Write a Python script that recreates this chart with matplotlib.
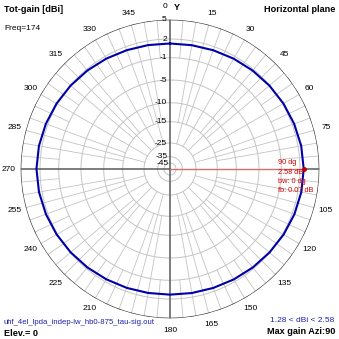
import numpy as np
import matplotlib.pyplot as plt

# gain readings (dBi) every 10 deg of azimuth, clockwise from Y axis
azi = list(range(0, 360, 10))
gain = [1.28, 1.31, 1.42, 1.58, 1.76, 1.96, 2.15, 2.33, 2.50,
        2.58, 2.52, 2.37, 2.18, 1.98, 1.78, 1.60, 1.45, 1.35,
        1.30, 1.34, 1.44, 1.58, 1.76, 1.95, 2.14, 2.32, 2.47,
        2.55, 2.48, 2.33, 2.15, 1.96, 1.77, 1.59, 1.43, 1.33]

# dB rings and their place on the (log-like) radial scale
ring_db = [-45, -35, -25, -15, -10, -5, -1, 2, 5]
ring_r = [6, 12.3, 26, 47.3, 66.3, 89, 111.3, 130, 149.3]
ring_lbl = ['-45', '-35', '-25', '-15', '-10', '-5', '-1', '2', '5']
ang_lbl = list(range(15, 360, 15))

R = ring_r[-1]


def rad(db):
    return np.interp(db, ring_db, ring_r)


W = H = 339
fig = plt.figure(figsize=(3.39, 3.39), dpi=100)
cx, cy = 170, 169
ax = fig.add_axes([(cx - R) / W, (H - cy - R) / H, 2 * R / W, 2 * R / H],
                  projection='polar')
ax.set_theta_zero_location('N')
ax.set_theta_direction(-1)
ax.set_ylim(0, R)
ax.axis('off')

plt.rcParams['font.family'] = ['Liberation Sans', 'DejaVu Sans']

th = np.linspace(0, 2 * np.pi, 361)
grid_c = '#c4c4c4'
for r in ring_r[:-1]:
    ax.plot(th, np.full_like(th, r), color=grid_c, lw=0.7, zorder=1)
ax.plot(th, np.full_like(th, R), color='#303030', lw=0.9, zorder=2)

# spokes
for a in range(0, 360, 5):
    t = np.deg2rad(a)
    if a % 90 == 0:
        continue
    if a % 15 == 0:
        r0 = ring_r[2]
    elif a % 10 == 0:
        r0 = ring_r[3]
    else:
        r0 = ring_r[6]
    r1 = R + 7 if a % 15 == 0 else R
    ax.plot([t, t], [r0, r1], color=grid_c, lw=0.6, zorder=1)
for a in (0, 180, 270):
    ax.plot([np.deg2rad(a)] * 2, [0, R], color='#5a5a5a', lw=1.1, zorder=3)
ax.plot([np.pi / 2] * 2, [rad(2.58), R], color='#5a5a5a', lw=1.1, zorder=3)
ax.plot([np.pi / 2] * 2, [0, rad(2.58)], color='#d07070', lw=1.0, zorder=4)

# pattern
t = np.deg2rad(azi + [360])
g = gain + [gain[0]]
ax.plot(t, rad(g), color='#0000a8', lw=1.5, zorder=5)
ax.plot([np.pi / 2], [rad(2.58)], 'o', color='#c00000', ms=2.5, zorder=6)

# dB labels
for r, s in zip(ring_r, ring_lbl):
    ax.text(np.deg2rad(-1.2 * 149 / r if r > 20 else -12), r, s, fontsize=6,
            ha='right', va='center', zorder=7, clip_on=False)

# angle labels
for a in ang_lbl:
    if a == 90:
        continue
    ax.text(np.deg2rad(a), R + 12, str(a), fontsize=6, ha='center',
            va='center', clip_on=False)
fig.text(165 / W, 1 - 7 / H, '0', fontsize=6, ha='center', va='center')
fig.text(177 / W, 1 - 8 / H, 'Y', fontsize=6.5, fontweight='bold',
         ha='center', va='center')

# header / footer texts
fig.text(4 / W, 1 - 9 / H, 'Tot-gain [dBi]', fontsize=6.6, fontweight='bold',
         va='center')
fig.text(335 / W, 1 - 9 / H, 'Horizontal plane', fontsize=6.6,
         fontweight='bold', va='center', ha='right')
fig.text(4 / W, 1 - 29 / H, 'Freq=174', fontsize=6, va='center')
fig.text(4 / W, 1 - 322 / H, 'uhf_4el_lpda_indep-lw_hb0-875_tau-sig.out',
         fontsize=5.6, color='#2020b0', va='center', zorder=10,
         bbox=dict(facecolor='white', edgecolor='none', pad=0.3))
fig.text(4 / W, 1 - 333 / H, 'Elev.= 0', fontsize=6.6, fontweight='bold',
         va='center')
fig.text(334 / W, 1 - 321 / H, '1.28 < dBi < 2.58', fontsize=6,
         color='#2020b0', va='center', ha='right')
fig.text(335 / W, 1 - 332 / H, 'Max gain Azi:90', fontsize=6.6,
         fontweight='bold', va='center', ha='right')

red = ['90 dg', '2.58 dB', 'bw: 0 dg', 'fb: 0.07 dB']
for i, s in enumerate(red):
    fig.text(278 / W, 1 - (163 + 9.3 * i) / H, s, fontsize=5.3,
             color='#d00000', va='center')

fig.savefig('out.png', dpi=100, facecolor='white')
